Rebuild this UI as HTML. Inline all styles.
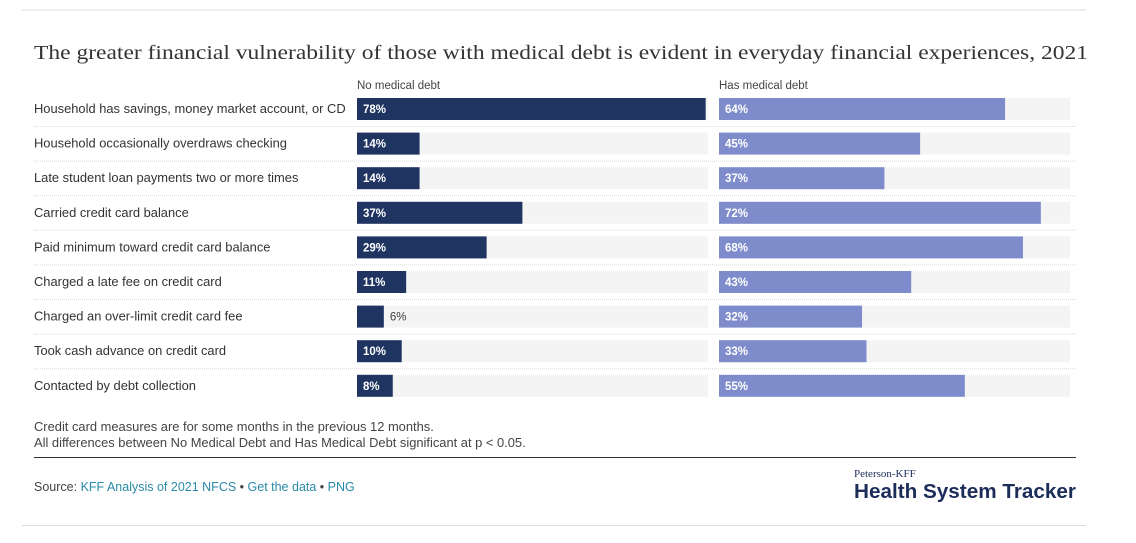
<!DOCTYPE html>
<html><head><meta charset="utf-8"><style>
body{margin:0;background:#fff;width:1136px;height:543px;overflow:hidden;font-family:"Liberation Sans",sans-serif}
svg{position:absolute;left:0;top:0}
</style></head><body>
<svg id="c" width="1136" height="543">
<line x1="22" y1="10" x2="1086" y2="10" stroke="#ddd"/>
<text x="34" y="59" font-family="Liberation Serif, serif" font-size="20" fill="#333" textLength="1054" lengthAdjust="spacingAndGlyphs">The greater financial vulnerability of those with medical debt is evident in everyday financial experiences, 2021</text>
<text x="357" y="89" font-size="11.5" fill="#444">No medical debt</text>
<text x="719" y="89" font-size="11.5" fill="#444">Has medical debt</text>
<g id="rows"></g>
<text x="34" y="431" font-size="12.9" fill="#444">Credit card measures are for some months in the previous 12 months.</text>
<text x="34" y="447" font-size="12.9" fill="#444">All differences between No Medical Debt and Has Medical Debt significant at p &lt; 0.05.</text>
<line x1="34" y1="457.5" x2="1076" y2="457.5" stroke="#333"/>
<text x="34" y="491" font-size="12.5" fill="#444">Source: <tspan fill="#2a8aa8">KFF Analysis of 2021 NFCS</tspan> • <tspan fill="#2a8aa8">Get the data</tspan> • <tspan fill="#2a8aa8">PNG</tspan></text>
<text x="854" y="477" font-family="Liberation Serif, serif" font-size="11" fill="#1c2d5a">Peterson-KFF</text>
<text x="854" y="498" font-size="20.5" font-weight="bold" fill="#1c2d5a" textLength="222" lengthAdjust="spacingAndGlyphs">Health System Tracker</text>
<line x1="22" y1="525.5" x2="1086" y2="525.5" stroke="#ddd"/>
</svg>
<script>
const categories=["Household has savings, money market account, or CD","Household occasionally overdraws checking","Late student loan payments two or more times","Carried credit card balance","Paid minimum toward credit card balance","Charged a late fee on credit card","Charged an over-limit credit card fee","Took cash advance on credit card","Contacted by debt collection"];
const noDebt=[78,14,14,37,29,11,6,10,8];
const hasDebt=[64,45,37,72,68,43,32,33,55];
const NS="http://www.w3.org/2000/svg";
const g=document.getElementById('rows');
const scale=v=>v*4.47;
const rowY=i=>98+i*34.6;
function mk(t,a){const e=document.createElementNS(NS,t);for(const k in a)e.setAttribute(k,a[k]);g.appendChild(e);return e;}
categories.forEach((c,i)=>{
  const y=rowY(i);
  const lab=mk('text',{x:34,y:y+15,'font-size':12.9,fill:'#333'});lab.textContent=c;
  
  
  [[357,noDebt[i],'#1f3461','no-debt'],[719,hasDebt[i],'#7f8ccb','has-debt']].forEach(([x0,v,col,nm])=>{
    const tr=mk('rect',{x:x0,y:y,width:351,height:22,fill:'#f4f4f4'});
    
    
    const b=mk('rect',{x:x0,y:y,width:scale(v),height:22,fill:col});
    
    
    const w=scale(v);const inside=w>30;
    const t=mk('text',{x:inside?x0+6:x0+w+6,y:y+15,'font-size':11.5,'font-weight':inside?'bold':'normal',fill:inside?'#fff':'#444'});
    t.textContent=v+'%';
    
    
  });
  if(i<categories.length-1){
    const l=mk('line',{x1:34,x2:1076,y1:y+28.5,y2:y+28.5,stroke:'#d8d8d8','stroke-dasharray':'1,1'});
    
    
  }
});
</script>
</body></html>
